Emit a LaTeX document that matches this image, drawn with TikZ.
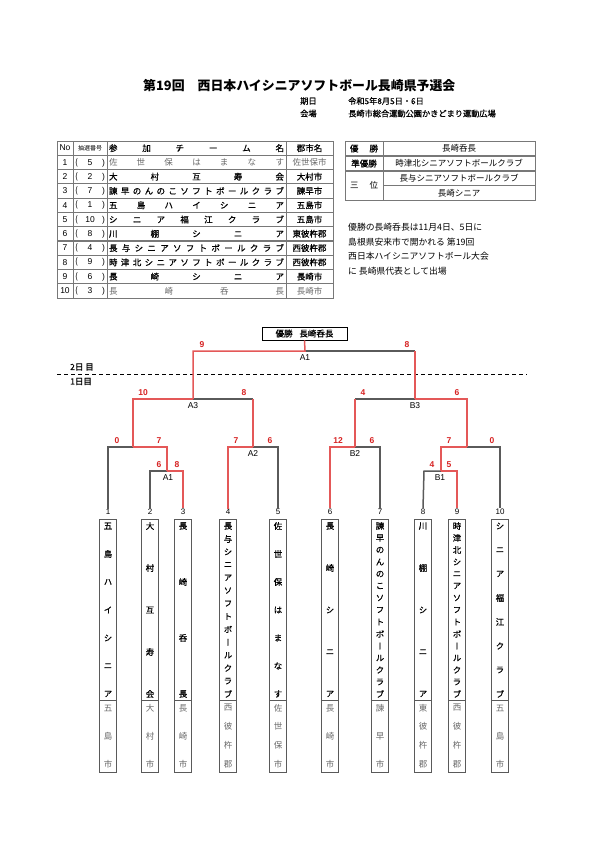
\documentclass[tikz,border=0pt]{standalone}
\usepackage{fontspec}
\setmainfont{Noto Sans CJK JP}
\newfontfamily\vjp[RawFeature=+vert,FakeBold=0.6]{Noto Sans CJK JP}
\newfontfamily\vjl[RawFeature=+vert]{Noto Sans CJK JP}
\newfontfamily\jpb[FakeBold=0.6]{Noto Sans CJK JP}
\newfontfamily\lat{Liberation Sans}
\definecolor{lred}{RGB}{228,88,88}
\definecolor{lgray}{RGB}{90,90,90}
\definecolor{sred}{RGB}{215,35,35}
\definecolor{tgray}{RGB}{105,105,105}
\definecolor{bgray}{RGB}{120,120,120}

\newcommand\fs[1]{\fontsize{#1bp}{#1bp}\selectfont}

% table row: #1 k, #2 no, #3 draw no, #4 team, #5 city, #6 colour, #7 font
\newcommand\trow[7]{%
  \node[tcell] (no#1) at (65,{141+14.27*(#1+0.5)}) {\lat #2};
  \node[tcell] (dr#1) at (90,{141+14.27*(#1+0.5)}) {\makebox[30bp]{(\hfill\lat #3\hfill )}};
  \node[tcell,text=#6] (tm#1) at (196.5,{141+14.27*(#1+0.5)}) {#7\makebox[175bp]{#4}};
  \node[tcell,text=#6] (ct#1) at (309.5,{141+14.27*(#1+0.5)}) {#7#5};
}
% vertical team: #1 id, #2 x, #3 n, #4 chars, #5 n city, #6 city chars
\newcommand\vteam[6]{%
  \node[teambox] (box#1) at (#2,645.5) {};
  \draw[boxline] (box#1.west |- split) -- (box#1.east |- split);
  \foreach \c [count=\i] in {#4} {\node[vchar] (v#1x\i) at (#2,{526+(\i-1)*168/(#3-1)}) {\c};}
  \foreach \c [count=\i] in {#6} {\node[cchar] (c#1x\i) at (#2,{708+(\i-1)*56/(#5-1)}) {\c};}
}

\begin{document}
\begin{tikzpicture}[x=1bp,y=-1bp,
  tcell/.style={inner sep=0, font=\fs{8.5}},
  tline/.style={draw=bgray, line width=0.7bp},
  teambox/.style={draw=lgray, line width=1bp, minimum width=17bp, minimum height=253bp, inner sep=0},
  boxline/.style={draw=lgray, line width=1bp},
  vchar/.style={inner sep=0, font=\vjp\fs{8.5}},
  cchar/.style={inner sep=0, font=\vjl\fs{8.5}, text=tgray},
  numlab/.style={inner sep=0.5bp, font=\lat\fs{8}},
  sc/.style={inner sep=0, font=\lat\bfseries\fs{8.5}, text=sred},
  gl/.style={inner sep=0, font=\lat\fs{8.5}},
  redl/.style={draw=lred, line width=1.5bp},
  grayl/.style={draw=lgray, line width=1.5bp}
]
\useasboundingbox (0,0) rectangle (595,842);
\fill[white] (0,0) rectangle (595,842);

% ---------- heading ----------
\node[anchor=west, inner sep=0, font=\bfseries\fs{12.9}] (title) at (143,86) {第19回\hspace{1em}西日本ハイシニアソフトボール長崎県予選会};
\node[anchor=west, inner sep=0, font=\jpb\fs{8.2}] (dlab) at (300,101) {期日};
\node[anchor=west, inner sep=0, font=\jpb\fs{8.2}] (date) at (348,101) {令和5年8月5日・6日};
\node[anchor=west, inner sep=0, font=\jpb\fs{8.2}] (vlab) at (300,113.5) {会場};
\node[anchor=west, inner sep=0, font=\jpb\fs{8.2}] (venue) at (348,113.5) {長崎市総合運動公園かきどまり運動広場};

% ---------- left table ----------
\draw[tline] (57,141) rectangle (333,298);
\foreach \k in {1,...,10} {\draw[tline] (57,{141+14.27*\k}) -- (333,{141+14.27*\k});}
\draw[draw=bgray, line width=1.3bp] (57,{141+14.27*7}) -- (333,{141+14.27*7});
\foreach \xx in {73,107,286} {\draw[tline] (\xx,141) -- (\xx,298);}
\node[tcell] (hno) at (65,148.1) {\lat No};
\node[tcell, font=\fs{6}] (hdr) at (90,148.1) {抽選番号};
\node[tcell] (htm) at (196.5,148.1) {\jpb\makebox[175bp]{参\hfill 加\hfill チ\hfill ー\hfill ム\hfill 名}};
\node[tcell] (hct) at (309.5,148.1) {\jpb 郡市名};
\trow{1}{1}{5}{佐\hfill 世\hfill 保\hfill は\hfill ま\hfill な\hfill す}{佐世保市}{tgray}{}
\trow{2}{2}{2}{大\hfill 村\hfill 互\hfill 寿\hfill 会}{大村市}{black}{\jpb}
\trow{3}{3}{7}{諫\hfill 早\hfill の\hfill ん\hfill の\hfill こ\hfill ソ\hfill フ\hfill ト\hfill ボ\hfill ー\hfill ル\hfill ク\hfill ラ\hfill ブ}{諫早市}{black}{\jpb}
\trow{4}{4}{1}{五\hfill 島\hfill ハ\hfill イ\hfill シ\hfill ニ\hfill ア}{五島市}{black}{\jpb}
\trow{5}{5}{10}{シ\hfill ニ\hfill ア\hfill 福\hfill 江\hfill ク\hfill ラ\hfill ブ}{五島市}{black}{\jpb}
\trow{6}{6}{8}{川\hfill 棚\hfill シ\hfill ニ\hfill ア}{東彼杵郡}{black}{\jpb}
\trow{7}{7}{4}{長\hfill 与\hfill シ\hfill ニ\hfill ア\hfill ソ\hfill フ\hfill ト\hfill ボ\hfill ー\hfill ル\hfill ク\hfill ラ\hfill ブ}{西彼杵郡}{black}{\jpb}
\trow{8}{8}{9}{時\hfill 津\hfill 北\hfill シ\hfill ニ\hfill ア\hfill ソ\hfill フ\hfill ト\hfill ボ\hfill ー\hfill ル\hfill ク\hfill ラ\hfill ブ}{西彼杵郡}{black}{\jpb}
\trow{9}{9}{6}{長\hfill 崎\hfill シ\hfill ニ\hfill ア}{長崎市}{black}{\jpb}
\trow{10}{10}{3}{長\hfill 崎\hfill 呑\hfill 長}{長崎市}{tgray}{}

% ---------- right table ----------
\draw[tline] (345,141) rectangle (535,200);
\draw[draw=bgray, line width=1.2bp] (345,156) -- (535,156);
\draw[draw=bgray, line width=1.2bp] (345,171) -- (535,171);
\draw[draw=bgray, line width=1.2bp] (383,185.5) -- (535,185.5);
\draw[tline] (383,141) -- (383,200);
\node[tcell] (w1) at (364,148.5) {\jpb\makebox[28bp]{優\hfill 勝}};
\node[tcell] (w1t) at (459,148.5) {長崎呑長};
\node[tcell] (w2) at (364,163.5) {\jpb 準優勝};
\node[tcell] (w2t) at (459,163.5) {時津北シニアソフトボールクラブ};
\node[tcell] (w3) at (364,185.5) {\makebox[28bp]{三\hfill 位}};
\node[tcell] (w3a) at (459,178.2) {長与シニアソフトボールクラブ};
\node[tcell] (w3b) at (459,192.8) {長崎シニア};

% ---------- paragraph ----------
\node[anchor=north west, inner sep=0, align=left, font=\fontsize{8.8bp}{14.5bp}\selectfont] (para) at (348,223) {優勝の長崎呑長は11月4日、5日に\\島根県安来市で開かれる 第19回\\西日本ハイシニアソフトボール大会\\に 長崎県代表として出場};

% ---------- day separator ----------
\coordinate (dsL) at (57,374);
\coordinate (dsR) at (527,374);
\draw[draw=black, line width=1bp, dash pattern=on 4bp off 3bp] (dsL) -- (dsR);
\node[anchor=west, inner sep=0, font=\jpb\fs{8.5}] (day2) at (70,367) {2日 目};
\node[anchor=west, inner sep=0, font=\jpb\fs{8.5}] (day1) at (70,381.5) {1日目};

% ---------- bracket ----------
\node[draw=black, line width=0.8bp, minimum width=85bp, minimum height=13bp, inner sep=0, font=\jpb\fs{8.5}] (champ) at (304.5,333.5) {優勝\hspace{0.8em}長崎呑長};

\foreach \n/\xx in {1/108,2/150,3/183,4/228,5/278,6/330,7/380,8/423,9/457,10/500} {
  \node[numlab] (num\n) at (\xx,512) {\n};
}
\coordinate (F) at (305,351);  \coordinate (FL) at (193,351);  \coordinate (FR) at (415,351);
\coordinate (A3) at (193,399); \coordinate (A3L) at (133,399); \coordinate (A3R) at (253,399);
\coordinate (B3) at (415,399); \coordinate (B3L) at (355,399); \coordinate (B3R) at (467,399);
\coordinate (G1) at (133,447); \coordinate (G1L) at (108,447); \coordinate (G1R) at (167,447);
\coordinate (A2) at (253,447); \coordinate (A2L) at (228,447); \coordinate (A2R) at (278,447);
\coordinate (B2) at (355,447); \coordinate (B2L) at (330,447); \coordinate (B2R) at (380,447);
\coordinate (G2) at (467,447); \coordinate (G2L) at (441,447); \coordinate (G2R) at (500,447);
\coordinate (A1s) at (167,471); \coordinate (A1sL) at (150,471); \coordinate (A1sR) at (183,471);
\coordinate (B1) at (441,471); \coordinate (B1L) at (424,471); \coordinate (B1R) at (457,471);

% losers (gray)
\draw[grayl] (F) -- (FR);
\draw[grayl] (A3) -- (A3R);
\draw[grayl] (B3L) -- (B3);
\draw[grayl] (num1.north) -- (G1L) -- (G1);
\draw[grayl] (num2.north) -- (A1sL) -- (A1s);
\draw[grayl] (A2) -- (A2R) -- (num5.north);
\draw[grayl] (B2) -- (B2R) -- (num7.north);
\draw[grayl] (num8.north) -- (B1L) -- (B1);
\draw[grayl] (G2) -- (G2R) -- (num10.north);
% winners (red)
\draw[redl] (champ.south) -- (F) -- (FL) -- (A3);
\draw[redl] (FR) -- (B3);
\draw[redl] (A3) -- (A3L) -- (G1);
\draw[redl] (A3R) -- (A2);
\draw[redl] (B3) -- (B3R) -- (G2);
\draw[redl] (B3L) -- (B2);
\draw[redl] (G1) -- (G1R) -- (A1s);
\draw[redl] (A2) -- (A2L) -- (num4.north);
\draw[redl] (B2) -- (B2L) -- (num6.north);
\draw[redl] (G2) -- (G2L) -- (B1);
\draw[redl] (A1s) -- (A1sR) -- (num3.north);
\draw[redl] (B1) -- (B1R) -- (num9.north);

% scores
\node[sc] (sF1) at (202,344.5) {9};  \node[sc] (sF2) at (407,344.5) {8};
\node[sc] (sA31) at (143,392.5) {10}; \node[sc] (sA32) at (244,392.5) {8};
\node[sc] (sB31) at (363,392.5) {4};  \node[sc] (sB32) at (457,392.5) {6};
\node[sc] (sG11) at (117,440.5) {0};  \node[sc] (sG12) at (159,440.5) {7};
\node[sc] (sA21) at (236,440.5) {7};  \node[sc] (sA22) at (270,440.5) {6};
\node[sc] (sB21) at (338,440.5) {12}; \node[sc] (sB22) at (372,440.5) {6};
\node[sc] (sG21) at (449,440.5) {7};  \node[sc] (sG22) at (492,440.5) {0};
\node[sc] (sA11) at (159,464.5) {6};  \node[sc] (sA12) at (177,464.5) {8};
\node[sc] (sB11) at (432,464.5) {4};  \node[sc] (sB12) at (449,464.5) {5};
% game labels
\node[gl] (lA1) at (305,357.5) {A1};
\node[gl] (lA3) at (193,405.5) {A3};
\node[gl] (lB3) at (415,405.5) {B3};
\node[gl] (lA2) at (253,453.5) {A2};
\node[gl] (lB2) at (355,453.5) {B2};
\node[gl] (lA1s) at (168,477.5) {A1};
\node[gl] (lB1) at (440,477.5) {B1};

% ---------- team boxes ----------
\coordinate (split) at (0,700);
\vteam{1}{108}{7}{五,島,ハ,イ,シ,ニ,ア}{3}{五,島,市}
\vteam{2}{150}{5}{大,村,互,寿,会}{3}{大,村,市}
\vteam{3}{183}{4}{長,崎,呑,長}{3}{長,崎,市}
\vteam{4}{228}{14}{長,与,シ,ニ,ア,ソ,フ,ト,ボ,ー,ル,ク,ラ,ブ}{4}{西,彼,杵,郡}
\vteam{5}{278}{7}{佐,世,保,は,ま,な,す}{4}{佐,世,保,市}
\vteam{6}{330}{5}{長,崎,シ,ニ,ア}{3}{長,崎,市}
\vteam{7}{380}{15}{諫,早,の,ん,の,こ,ソ,フ,ト,ボ,ー,ル,ク,ラ,ブ}{3}{諫,早,市}
\vteam{8}{423}{5}{川,棚,シ,ニ,ア}{4}{東,彼,杵,郡}
\vteam{9}{457}{15}{時,津,北,シ,ニ,ア,ソ,フ,ト,ボ,ー,ル,ク,ラ,ブ}{4}{西,彼,杵,郡}
\vteam{10}{500}{8}{シ,ニ,ア,福,江,ク,ラ,ブ}{3}{五,島,市}
\end{tikzpicture}
\end{document}
